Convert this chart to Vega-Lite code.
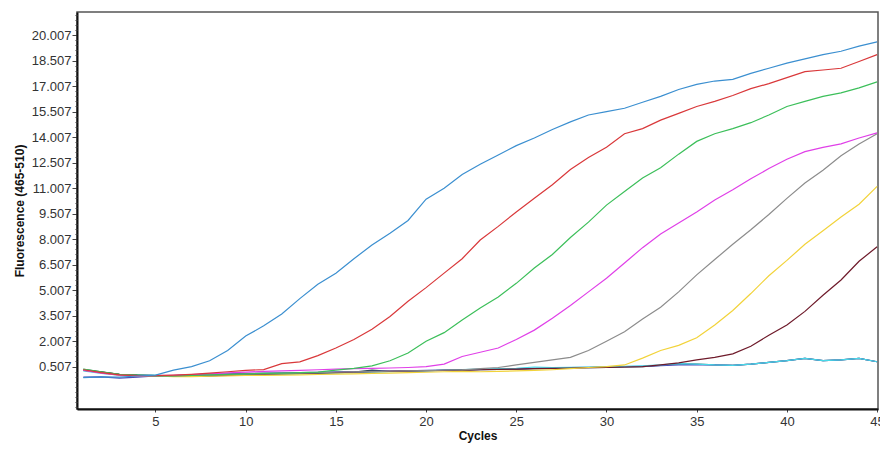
{
  "$schema": "https://vega.github.io/schema/vega-lite/v6.json",
  "width": 801,
  "height": 397,
  "autosize": {"type": "none"},
  "padding": {"left": 77, "top": 12, "right": 2, "bottom": 40},
  "background": "white",
  "config": {
    "view": {"stroke": "#555", "strokeWidth": 1.5},
    "axis": {"grid": false, "labelFont": "Liberation Sans", "labelColor": "#333", "titleFont": "Liberation Sans", "titleColor": "#111", "domainColor": "#111", "domainWidth": 2, "tickColor": "#444", "labelFlush": false}
  },
  "data": {"values": [
    {"c":1,"blue":-0.15,"red":0.32,"green":0.35,"magenta":0.3,"gray":0.28,"yellow":0.33,"maroon":0.3,"cyan":0.25,"dark":0.34,"navy":-0.12},
    {"c":2,"blue":-0.1,"red":0.15,"green":0.2,"magenta":0.12,"gray":0.15,"yellow":0.14,"maroon":0.18,"cyan":0.1,"dark":0.2,"navy":-0.1},
    {"c":3,"blue":-0.12,"red":0.02,"green":0.05,"magenta":0.0,"gray":0.03,"yellow":0.0,"maroon":0.05,"cyan":0.0,"dark":0.05,"navy":-0.17},
    {"c":4,"blue":-0.05,"red":-0.03,"green":0.0,"magenta":-0.05,"gray":-0.02,"yellow":-0.04,"maroon":0.0,"cyan":0.02,"dark":0.0,"navy":-0.12},
    {"c":5,"blue":0.0,"red":-0.03,"green":-0.05,"magenta":-0.03,"gray":-0.04,"yellow":-0.05,"maroon":-0.02,"cyan":0.0,"dark":-0.03,"navy":-0.05},
    {"c":6,"blue":0.3,"red":0.0,"green":-0.05,"magenta":-0.01,"gray":-0.05,"yellow":-0.08,"maroon":-0.04,"cyan":-0.05,"dark":-0.05,"navy":-0.02},
    {"c":7,"blue":0.5,"red":0.05,"green":-0.02,"magenta":0.03,"gray":-0.02,"yellow":-0.08,"maroon":-0.06,"cyan":-0.05,"dark":-0.06,"navy":0.02},
    {"c":8,"blue":0.85,"red":0.12,"green":0.02,"magenta":0.08,"gray":0.0,"yellow":-0.06,"maroon":-0.04,"cyan":-0.03,"dark":-0.03,"navy":0.06},
    {"c":9,"blue":1.45,"red":0.2,"green":0.05,"magenta":0.13,"gray":0.03,"yellow":-0.04,"maroon":-0.01,"cyan":0.0,"dark":0.0,"navy":0.08},
    {"c":10,"blue":2.3,"red":0.28,"green":0.08,"magenta":0.18,"gray":0.06,"yellow":-0.02,"maroon":0.02,"cyan":0.02,"dark":0.03,"navy":0.1},
    {"c":11,"blue":2.9,"red":0.33,"green":0.1,"magenta":0.22,"gray":0.08,"yellow":-0.01,"maroon":0.05,"cyan":0.03,"dark":0.05,"navy":0.12},
    {"c":12,"blue":3.6,"red":0.68,"green":0.12,"magenta":0.25,"gray":0.1,"yellow":0.0,"maroon":0.07,"cyan":0.05,"dark":0.08,"navy":0.13},
    {"c":13,"blue":4.5,"red":0.78,"green":0.15,"magenta":0.28,"gray":0.12,"yellow":0.02,"maroon":0.1,"cyan":0.08,"dark":0.1,"navy":0.15},
    {"c":14,"blue":5.35,"red":1.15,"green":0.18,"magenta":0.32,"gray":0.15,"yellow":0.04,"maroon":0.12,"cyan":0.1,"dark":0.13,"navy":0.17},
    {"c":15,"blue":6.0,"red":1.6,"green":0.3,"magenta":0.36,"gray":0.17,"yellow":0.06,"maroon":0.15,"cyan":0.13,"dark":0.15,"navy":0.19},
    {"c":16,"blue":6.85,"red":2.1,"green":0.4,"magenta":0.38,"gray":0.19,"yellow":0.08,"maroon":0.17,"cyan":0.15,"dark":0.18,"navy":0.2},
    {"c":17,"blue":7.65,"red":2.7,"green":0.55,"magenta":0.4,"gray":0.21,"yellow":0.1,"maroon":0.2,"cyan":0.17,"dark":0.3,"navy":0.22},
    {"c":18,"blue":8.35,"red":3.45,"green":0.85,"magenta":0.42,"gray":0.23,"yellow":0.12,"maroon":0.22,"cyan":0.2,"dark":0.22,"navy":0.24},
    {"c":19,"blue":9.1,"red":4.35,"green":1.3,"magenta":0.45,"gray":0.25,"yellow":0.15,"maroon":0.24,"cyan":0.22,"dark":0.24,"navy":0.26},
    {"c":20,"blue":10.35,"red":5.15,"green":2.0,"magenta":0.5,"gray":0.27,"yellow":0.17,"maroon":0.26,"cyan":0.25,"dark":0.26,"navy":0.28},
    {"c":21,"blue":11.0,"red":6.0,"green":2.5,"magenta":0.65,"gray":0.29,"yellow":0.2,"maroon":0.28,"cyan":0.3,"dark":0.28,"navy":0.3},
    {"c":22,"blue":11.8,"red":6.85,"green":3.25,"magenta":1.1,"gray":0.31,"yellow":0.22,"maroon":0.3,"cyan":0.33,"dark":0.3,"navy":0.32},
    {"c":23,"blue":12.4,"red":7.95,"green":3.95,"magenta":1.35,"gray":0.38,"yellow":0.2,"maroon":0.32,"cyan":0.36,"dark":0.32,"navy":0.34},
    {"c":24,"blue":12.95,"red":8.75,"green":4.6,"magenta":1.6,"gray":0.45,"yellow":0.22,"maroon":0.34,"cyan":0.38,"dark":0.34,"navy":0.36},
    {"c":25,"blue":13.5,"red":9.6,"green":5.4,"magenta":2.1,"gray":0.6,"yellow":0.25,"maroon":0.36,"cyan":0.4,"dark":0.36,"navy":0.38},
    {"c":26,"blue":13.95,"red":10.4,"green":6.3,"magenta":2.65,"gray":0.75,"yellow":0.28,"maroon":0.38,"cyan":0.48,"dark":0.38,"navy":0.4},
    {"c":27,"blue":14.45,"red":11.2,"green":7.1,"magenta":3.35,"gray":0.9,"yellow":0.32,"maroon":0.4,"cyan":0.44,"dark":0.4,"navy":0.42},
    {"c":28,"blue":14.9,"red":12.1,"green":8.1,"magenta":4.1,"gray":1.05,"yellow":0.38,"maroon":0.42,"cyan":0.46,"dark":0.42,"navy":0.44},
    {"c":29,"blue":15.3,"red":12.8,"green":9.0,"magenta":4.9,"gray":1.45,"yellow":0.45,"maroon":0.44,"cyan":0.48,"dark":0.44,"navy":0.46},
    {"c":30,"blue":15.5,"red":13.4,"green":10.0,"magenta":5.7,"gray":2.0,"yellow":0.5,"maroon":0.46,"cyan":0.5,"dark":0.46,"navy":0.48},
    {"c":31,"blue":15.7,"red":14.2,"green":10.8,"magenta":6.6,"gray":2.55,"yellow":0.6,"maroon":0.48,"cyan":0.52,"dark":0.48,"navy":0.5},
    {"c":32,"blue":16.05,"red":14.5,"green":11.6,"magenta":7.5,"gray":3.3,"yellow":1.0,"maroon":0.5,"cyan":0.55,"dark":0.5,"navy":0.52},
    {"c":33,"blue":16.4,"red":15.0,"green":12.2,"magenta":8.3,"gray":4.0,"yellow":1.45,"maroon":0.6,"cyan":0.6,"dark":0.58,"navy":0.56},
    {"c":34,"blue":16.8,"red":15.4,"green":13.0,"magenta":8.95,"gray":4.9,"yellow":1.75,"maroon":0.72,"cyan":0.68,"dark":0.66,"navy":0.6},
    {"c":35,"blue":17.1,"red":15.8,"green":13.75,"magenta":9.6,"gray":5.9,"yellow":2.2,"maroon":0.9,"cyan":0.65,"dark":0.65,"navy":0.62},
    {"c":36,"blue":17.3,"red":16.1,"green":14.2,"magenta":10.3,"gray":6.8,"yellow":2.95,"maroon":1.05,"cyan":0.6,"dark":0.6,"navy":0.6},
    {"c":37,"blue":17.4,"red":16.45,"green":14.5,"magenta":10.9,"gray":7.7,"yellow":3.8,"maroon":1.25,"cyan":0.58,"dark":0.58,"navy":0.58},
    {"c":38,"blue":17.75,"red":16.85,"green":14.85,"magenta":11.55,"gray":8.55,"yellow":4.8,"maroon":1.7,"cyan":0.65,"dark":0.65,"navy":0.65},
    {"c":39,"blue":18.05,"red":17.15,"green":15.3,"magenta":12.15,"gray":9.45,"yellow":5.85,"maroon":2.35,"cyan":0.75,"dark":0.75,"navy":0.75},
    {"c":40,"blue":18.35,"red":17.5,"green":15.8,"magenta":12.7,"gray":10.4,"yellow":6.75,"maroon":2.95,"cyan":0.85,"dark":0.85,"navy":0.85},
    {"c":41,"blue":18.6,"red":17.85,"green":16.1,"magenta":13.15,"gray":11.3,"yellow":7.7,"maroon":3.75,"cyan":0.99,"dark":0.99,"navy":0.99},
    {"c":42,"blue":18.85,"red":17.95,"green":16.4,"magenta":13.4,"gray":12.05,"yellow":8.5,"maroon":4.7,"cyan":0.85,"dark":0.85,"navy":0.85},
    {"c":43,"blue":19.05,"red":18.05,"green":16.6,"magenta":13.6,"gray":12.9,"yellow":9.3,"maroon":5.6,"cyan":0.9,"dark":0.9,"navy":0.9},
    {"c":44,"blue":19.35,"red":18.45,"green":16.9,"magenta":13.95,"gray":13.6,"yellow":10.05,"maroon":6.7,"cyan":0.99,"dark":0.99,"navy":0.99},
    {"c":45,"blue":19.6,"red":18.85,"green":17.25,"magenta":14.25,"gray":14.2,"yellow":11.1,"maroon":7.55,"cyan":0.79,"dark":0.79,"navy":0.79}
  ]},
  "transform": [
    {"fold": ["dark", "navy", "cyan", "maroon", "yellow", "gray", "magenta", "green", "red", "blue"], "as": ["series", "value"]}
  ],
  "resolve": {"axis": {"y": "independent"}},
  "layer": [
    {
      "mark": {"type": "line", "strokeWidth": 1.2, "clip": true},
      "encoding": {
        "x": {"field": "c", "type": "quantitative",
              "scale": {"domain": [0.65, 45.05], "nice": false, "zero": false},
              "axis": {"values": [5, 10, 15, 20, 25, 30, 35, 40, 45], "title": "Cycles", "titleFontSize": 12, "titleFontWeight": "bold", "labelFontSize": 13, "tickSize": 3, "labelPadding": 3, "titlePadding": 2, "labelFlush": false}},
        "y": {"field": "value", "type": "quantitative",
              "scale": {"domain": [-1.99, 21.36], "nice": false, "zero": false},
              "axis": {"values": [0.507, 2.007, 3.507, 5.007, 6.507, 8.007, 9.507, 11.007, 12.507, 14.007, 15.507, 17.007, 18.507, 20.007], "format": ".3f", "title": "Fluorescence (465-510)", "titleFontSize": 12, "titleFontWeight": "bold", "labelFontSize": 13, "tickSize": 5, "labelPadding": 1, "titlePadding": 5, "orient": "left", "labelFlush": false}},
        "color": {"field": "series", "type": "nominal", "legend": null,
                  "scale": {"domain": ["dark", "navy", "cyan", "maroon", "yellow", "gray", "magenta", "green", "red", "blue"],
                            "range": ["#2e4a4a", "#4a4ab8", "#48d8e8", "#6e1a2a", "#f2d33a", "#8c8c8c", "#e040e8", "#3cbf5a", "#d9383a", "#3b8fd0"]}},
        "order": {"field": "c", "type": "quantitative"}
      }
    },
    {
      "mark": {"type": "point", "opacity": 0},
      "encoding": {
        "y": {"datum": 0.507, "type": "quantitative",
              "scale": {"domain": [-1.99, 21.36], "nice": false, "zero": false},
              "axis": {"orient": "left", "title": null, "labels": false, "domain": false, "tickSize": 2,
                       "values": [-1.893, -1.593, -1.293, -0.993, -0.693, -0.393, -0.093, 0.207, 0.807, 1.107, 1.407, 1.707, 2.307, 2.607, 2.907, 3.207, 3.807, 4.107, 4.407, 4.707, 5.307, 5.607, 5.907, 6.207, 6.807, 7.107, 7.407, 7.707, 8.307, 8.607, 8.907, 9.207, 9.807, 10.107, 10.407, 10.707, 11.307, 11.607, 11.907, 12.207, 12.807, 13.107, 13.407, 13.707, 14.307, 14.607, 14.907, 15.207, 15.807, 16.107, 16.407, 16.707, 17.307, 17.607, 17.907, 18.207, 18.807, 19.107, 19.407, 19.707, 20.307, 20.607, 20.907, 21.207]}}
      }
    }
  ]
}
